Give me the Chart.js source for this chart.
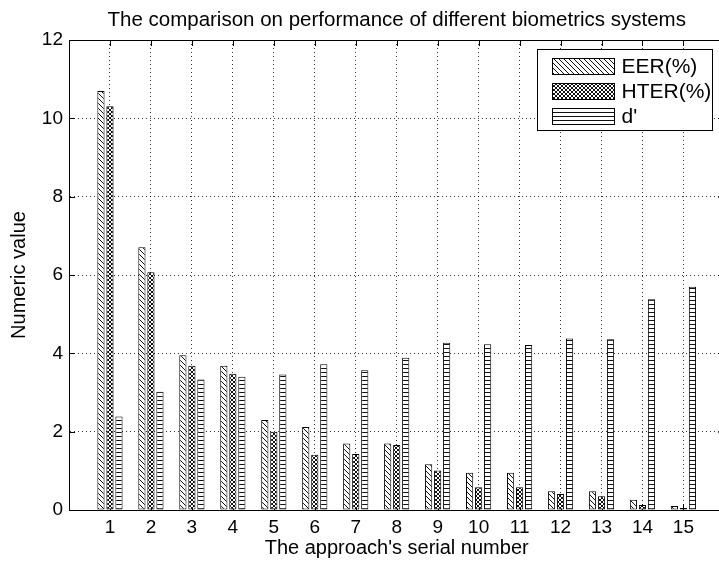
<!DOCTYPE html>
<html><head><meta charset="utf-8">
<script src="https://cdn.jsdelivr.net/npm/chart.js@4/dist/chart.umd.min.js"></script>
<style>html,body{margin:0;padding:0;background:#fff;overflow:hidden;width:719px;height:562px}canvas{display:block}</style>
</head><body>
<canvas id="c" width="740" height="562"></canvas>
<script>
const categories = [1,2,3,4,5,6,7,8,9,10,11,12,13,14,15];
const seriesNames = ['EER(%)', 'HTER(%)', "d'"];
const eer    = [10.70, 6.71, 3.95, 3.68, 2.30, 2.12, 1.70, 1.70, 1.17, 0.95, 0.95, 0.48, 0.48, 0.26, 0.10];
const hter   = [10.31, 6.07, 3.68, 3.48, 2.00, 1.41, 1.43, 1.66, 1.01, 0.58, 0.58, 0.41, 0.35, 0.13, 0.05];
const dPrime = [2.39, 3.02, 3.33, 3.40, 3.46, 3.72, 3.57, 3.89, 4.27, 4.23, 4.21, 4.38, 4.36, 5.38, 5.70];
const yTicks = [0, 2, 4, 6, 8, 10, 12];
const titleText = 'The comparison on performance of different biometrics systems';
const xTitle = "The approach's serial number";
const yTitle = 'Numeric value';

const FONT = "'Liberation Sans', Arial, Helvetica, sans-serif";

function makePattern(kind) {
  const s = kind === 'diag' ? 5 : 4;
  const c = document.createElement('canvas');
  c.width = s; c.height = s;
  const g = c.getContext('2d');
  g.fillStyle = '#fff'; g.fillRect(0, 0, s, s);
  g.fillStyle = '#111';
  if (kind === 'diag') {
    for (let i = 0; i < s; i++) g.fillRect(i, i, 1, 1);
  } else if (kind === 'cross') {
    for (let i = 0; i < s; i++) { g.fillRect(i, i, 1, 1); g.fillRect(i, s - 1 - i, 1, 1); }
  } else {
    g.fillRect(0, 0, s, 1);
  }
  return g.createPattern(c, 'repeat');
}
const patterns = [makePattern('diag'), makePattern('cross'), makePattern('horiz')];
const seriesValues = [eer, hter, dPrime];

const datasets = seriesNames.map((name, k) => ({
  label: name,
  data: categories.map((c, i) => ({ x: c, y: seriesValues[k][i] })),
  backgroundColor: patterns[k],
  borderColor: '#000',
  borderWidth: 1,
  borderSkipped: false,
  categoryPercentage: 0.66,
  barPercentage: 0.8
}));

const framePlugin = {
  id: 'frame',
  beforeDatasetsDraw(chart) {
    const { ctx, chartArea: a, scales: { x, y } } = chart;
    ctx.save();
    ctx.strokeStyle = '#000'; ctx.lineWidth = 1;
    ctx.beginPath();
    x.ticks.forEach(t => {
      const px = Math.round(x.getPixelForValue(t.value)) + 0.5;
      ctx.moveTo(px, a.bottom); ctx.lineTo(px, a.bottom - 6);
      ctx.moveTo(px, a.top); ctx.lineTo(px, a.top + 6);
    });
    y.ticks.forEach(t => {
      const py = Math.round(y.getPixelForValue(t.value)) + 0.5;
      ctx.moveTo(a.left, py); ctx.lineTo(a.left + 6, py);
      ctx.moveTo(a.right, py); ctx.lineTo(a.right - 6, py);
    });
    ctx.stroke();
    ctx.restore();
  },
  afterDatasetsDraw(chart) {
    const { ctx, chartArea: a } = chart;
    ctx.save();
    ctx.strokeStyle = '#000'; ctx.lineWidth = 1;
    ctx.strokeRect(Math.round(a.left) + 0.5, Math.round(a.top) + 0.5, Math.round(a.right - a.left), Math.round(a.bottom - a.top));
    ctx.restore();
  },
  afterDraw(chart) {
    const { ctx, chartArea: a } = chart;
    const w = 175, h = 81;
    const lx = Math.round(a.right - 12 - w) + 0.5, ly = Math.round(a.top + 9) + 0.5;
    ctx.save();
    ctx.fillStyle = '#fff';
    ctx.fillRect(lx, ly, w, h);
    ctx.strokeStyle = '#000'; ctx.lineWidth = 1;
    ctx.strokeRect(lx, ly, w, h);
    chart.data.datasets.forEach((ds, i) => {
      const px = lx + 14, py = ly + 8 + i * 25.3, pw = 63, ph = 17;
      ctx.fillStyle = ds.backgroundColor;
      ctx.fillRect(Math.round(px), Math.round(py), pw, ph);
      ctx.strokeStyle = '#000';
      ctx.strokeRect(Math.round(px) + 0.5, Math.round(py) + 0.5, pw - 1, ph - 1);
      ctx.fillStyle = '#000';
      ctx.font = '21px ' + FONT;
      ctx.textBaseline = 'middle';
      ctx.textAlign = 'left';
      ctx.fillText(ds.label, lx + 84, py + ph / 2 + 1);
    });
    ctx.restore();
  }
};

new Chart(document.getElementById('c'), {
  type: 'bar',
  data: { datasets },
  options: {
    responsive: false,
    animation: false,
    layout: { padding: { left: 0, right: 15.6, top: 0, bottom: 0 } },
    plugins: {
      legend: { display: false },
      tooltip: { enabled: false },
      title: {
        display: true, text: titleText, fullSize: false, color: '#000',
        font: { family: FONT, size: 20.5, weight: 'normal' },
        padding: { top: 7.7, bottom: 7.7 }
      }
    },
    scales: {
      x: {
        type: 'linear', min: 0, max: 16, offset: false,
        afterBuildTicks(s) { s.ticks = categories.map(v => ({ value: v })); },
        afterFit(s) { s.height = 52; },
        ticks: { stepSize: 1, color: '#000', padding: 6, font: { family: FONT, size: 19 }, callback: v => String(v), maxRotation: 0, autoSkip: false },
        grid: { offset: false, color: 'rgba(0,0,0,0.8)', lineWidth: 1, drawTicks: false },
        border: { display: true, color: '#000', dash: [1, 3] },
        title: { display: true, text: xTitle, color: '#000', font: { family: FONT, size: 20 }, padding: { top: 0, bottom: 2 } }
      },
      y: {
        min: 0, max: 12,
        afterBuildTicks(s) { s.ticks = yTicks.map(v => ({ value: v })); },
        afterFit(s) { s.width = 69; },
        ticks: { color: '#000', padding: 6, font: { family: FONT, size: 19 } },
        grid: { color: 'rgba(0,0,0,0.8)', lineWidth: 1, drawTicks: false },
        border: { display: true, color: '#000', dash: [1, 3] },
        title: { display: true, text: yTitle, color: '#000', font: { family: FONT, size: 20 }, padding: { top: 7, bottom: 0 } }
      }
    }
  },
  plugins: [framePlugin]
});
</script>
</body></html>
